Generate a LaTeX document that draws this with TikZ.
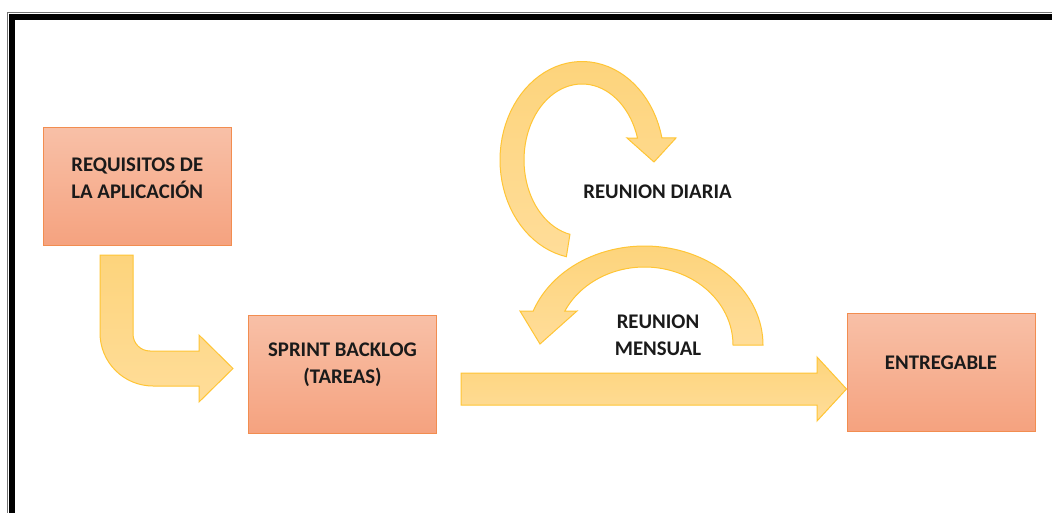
\documentclass[tikz,border=0pt]{standalone}
\usepackage{fontspec}
\setmainfont{Carlito}
\usetikzlibrary{calc}
\definecolor{boxtop}{HTML}{F8C0A7}
\definecolor{boxbot}{HTML}{F5A27F}
\definecolor{boxline}{HTML}{F28D50}
\definecolor{arrtop}{HTML}{FDD47C}
\definecolor{arrbot}{HTML}{FFDD99}
\definecolor{arrline}{HTML}{FFC535}
\definecolor{txt}{HTML}{1A1A1A}
\begin{document}
\begin{tikzpicture}[x=0.75pt,y=-0.75pt,
  box/.style={draw=boxline, line width=0.75pt, top color=boxtop, bottom color=boxbot,
    minimum width=141pt, minimum height=88.5pt, inner sep=0pt},
  lbl/.style={font=\fontsize{15.6}{20.25}\selectfont\bfseries, text=txt, align=center, inner sep=0pt},
  boxlbl/.style={lbl, yshift=6.75pt},
  blockarrow/.style={draw=arrline, line width=0.75pt, top color=arrtop, bottom color=arrbot, line join=miter}]
\useasboundingbox (0,0) rectangle (1052,513);
\fill[white] (0,0) rectangle (1052,513);
% frame
\draw[black!55, line width=0.75pt] (7.6,513) -- (7.6,12.3) -- (1052,12.3);
\draw[black, line width=4.4pt] (12.2,513) -- (12.2,17) -- (1052,17);
% boxes
\node[box, label={[boxlbl]center:{REQUISITOS DE\\LA APLICACIÓN}}] (req) at (137.25,187) {};
\node[box, label={[boxlbl]center:{SPRINT BACKLOG\\(TAREAS)}}] (back) at (342.5,374) {};
\node[box, label={[boxlbl]center:{ENTREGABLE}}] (ent) at (941,372) {};
% bent arrow req -> back
\coordinate (tipA) at ($(back.west)+(-15,-5.5)$);
\draw[blockarrow] (100,255) -- (133,255) -- (133,334)
  .. controls (133,343.4) and (140.6,351) .. (150,351)
  -- (199,351) -- (199,335) -- (tipA) -- (199,402) -- (199,386) -- (153,386)
  .. controls (123.7,386) and (100,362.3) .. (100,333) -- cycle;
% straight arrow back -> ent
\coordinate (tipB) at ($(ent.west)+(0,17)$);
\draw[blockarrow] (461,373) -- (817,373) -- (817,357) -- (tipB) -- (817,421) -- (817,405) -- (461,405) -- cycle;
% circular arrow (daily)
\draw[blockarrow] plot[domain=101:347, samples=60, variable=\t] ({582+82*cos(\t)},{160+98.5*sin(\t)})
  -- (676,138) -- (654,162) -- (627,138)
  -- plot[domain=0:241.2, samples=60, variable=\t] ({582+58*cos(343.2-\t)},{160+76*sin(343.2-\t)})
  -- cycle;
% circular arrow (monthly)
\draw[blockarrow] plot[domain=-160:0, samples=60, variable=\t] ({644.5+118.5*cos(\t)},{345+99*sin(\t)})
  -- (733,345)
  -- plot[domain=0:154.2, samples=60, variable=\t] ({644.5+88.5*cos(-\t)},{345+78*sin(-\t)})
  -- (577,311) -- (540,344) -- (520,311) -- cycle;
% labels
\node[lbl, anchor=base] (diaria) at (657.5,199) {REUNION DIARIA};
\node[lbl] (mensual) at (658,335) {REUNION\\MENSUAL};
\end{tikzpicture}
\end{document}
